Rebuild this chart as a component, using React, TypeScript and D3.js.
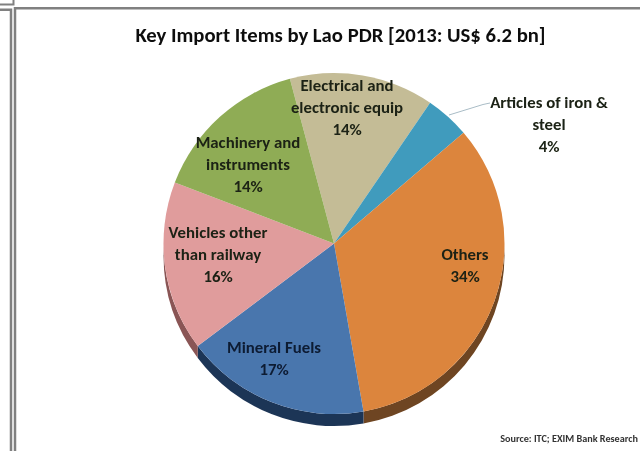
import React from "react";
import * as d3 from "d3";

const title = "Key Import Items by Lao PDR [2013: US$ 6.2 bn]";
const source = "Source: ITC; EXIM Bank Research";
const categories = ["Electrical and electronic equip", "Articles of iron & steel", "Others", "Mineral Fuels", "Vehicles other than railway", "Machinery and instruments"];
const values = [13.7, 4.2, 33.5, 17.5, 16.1, 15.0];
const labelLines = [
  ["Electrical and", "electronic equip", "14%"],
  ["Articles of iron &", "steel", "4%"],
  ["Others", "34%"],
  ["Mineral Fuels", "17%"],
  ["Vehicles other", "than railway", "16%"],
  ["Machinery and", "instruments", "14%"],
];
const labelCenters = [[347, 107], [549, 124], [465, 265], [274, 358], [218, 254], [248, 164]];
const topColors = ["#c4bc96", "#3f9bbd", "#dc853d", "#4a76ad", "#e09c9c", "#8fac55"];
const sideColors = ["#8a8468", "#2a6a82", "#6e4420", "#1e3557", "#8a5555", "#5c7036"];

const cx = 334, cy = 243.5, r = 170.5, depth = 12;
const startAngle = (-15 * Math.PI) / 180;
const font = "Carlito, Calibri, 'Open Sans', 'Noto Sans', sans-serif";

export default function App() {
  const pie = d3.pie<number>().sort(null).startAngle(startAngle).endAngle(startAngle + 2 * Math.PI);
  const arcs = pie(values);
  const arc = d3.arc<d3.PieArcDatum<number>>().innerRadius(0).outerRadius(r);
  const rim = (a0: number, a1: number) => {
    const lo = Math.max(a0, Math.PI / 2), hi = Math.min(a1, 1.5 * Math.PI);
    if (lo >= hi) return null;
    const p = d3.path();
    const x = (a: number) => cx + r * Math.sin(a), y = (a: number) => cy - r * Math.cos(a);
    p.moveTo(x(lo), y(lo));
    p.arc(cx, cy, r, lo - Math.PI / 2, hi - Math.PI / 2);
    p.lineTo(x(hi), y(hi) + depth);
    p.arc(cx, cy + depth, r, hi - Math.PI / 2, lo - Math.PI / 2, true);
    p.closePath();
    return p.toString();
  };
  return (
    <svg width={640} height={451} style={{ position: "absolute", left: 0, top: 0, background: "#fff" }}>
      <defs>
        <filter id="soft" x="-5%" y="-5%" width="110%" height="110%"><feGaussianBlur stdDeviation="0.55" /></filter>
      </defs>
      <g fill="none" stroke="#808080" strokeWidth={2.5}>
        <path d="M0 4.500H13.500V0" strokeWidth={2} />
        <path d="M0 9.800H11V451" />
        <path d="M15 451V8.300H640" />
      </g>
      <g filter="url(#soft)">
        <text x={340.500} y={41.500} textAnchor="middle" fontFamily={font} fontSize={20.700} fontWeight={700} fill="#111">{title}</text>
        {arcs.map((a, i) => {
          const d = rim(a.startAngle, a.endAngle);
          return d ? <path key={i} d={d} fill={sideColors[i]} /> : null;
        })}
        {arcs.map((a, i) => (
          <path key={i} d={arc(a) ?? ""} transform={`translate(${cx},${cy})`} fill={topColors[i]} />
        ))}
        <path d="M449 115L483 104.500L490 103" fill="none" stroke="#a9bcc6" strokeWidth={1} />
        {labelLines.map((lines, i) => (
          <text key={categories[i]} textAnchor="middle" fontFamily={font} fontSize={16.800} fontWeight={700} fill={i === 3 ? "#0d1b33" : "#1a2013"}>
            {lines.map((l, j) => (
              <tspan key={j} x={labelCenters[i][0]} y={labelCenters[i][1] + (j - (lines.length - 1) / 2) * 22 + 5.500}>{l}</tspan>
            ))}
          </text>
        ))}
        <text x={638} y={442} textAnchor="end" fontFamily={font} fontSize={10.200} fontWeight={700} fill="#333">{source}</text>
      </g>
    </svg>
  );
}
